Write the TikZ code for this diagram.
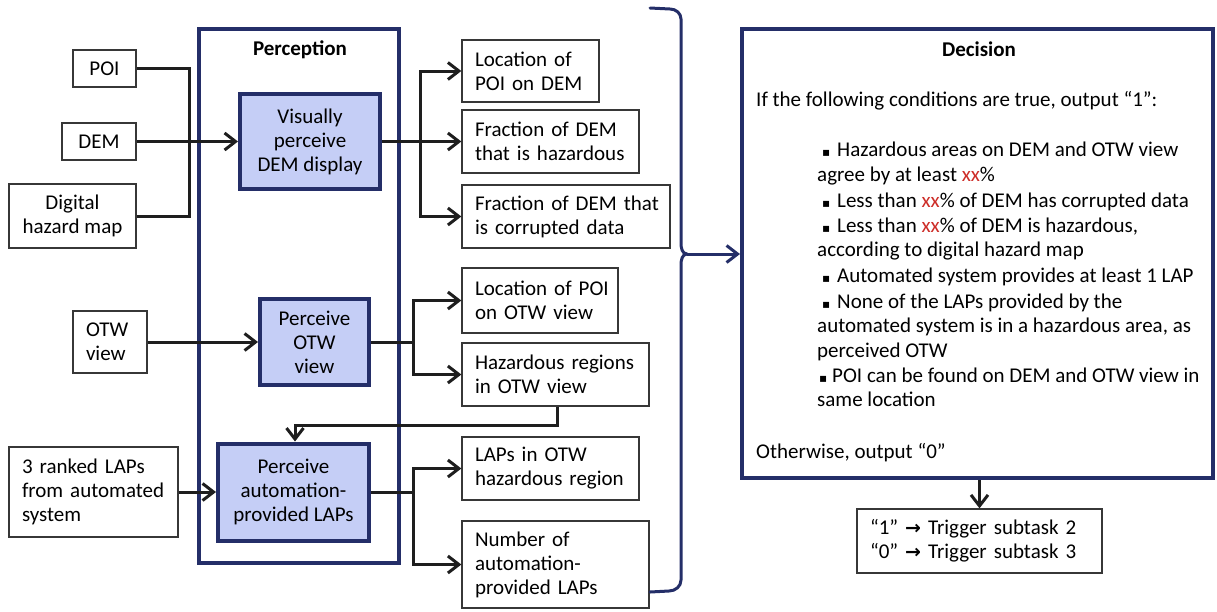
\documentclass[tikz,border=0pt]{standalone}
\usepackage{fontspec}
\setmainfont{Carlito}
\newfontfamily\symf{DejaVu Sans}
\usetikzlibrary{arrows.meta,calc}
\definecolor{navy}{RGB}{36,46,104}
\definecolor{procfill}{RGB}{197,206,246}
\definecolor{linek}{RGB}{30,30,30}
\definecolor{boxgray}{RGB}{55,55,55}
\definecolor{xxred}{RGB}{205,45,40}
\newcommand\redxx{\textcolor{xxred}{xx}}
\newcommand\sqbul{{\symf\fontsize{12}{12}\selectfont ▪}}
\newcommand\trigarrow{{\symf\bfseries\fontsize{19}{19}\selectfont →}}

\begin{document}
\begin{tikzpicture}[x=1pt,y=-1pt,
  font=\fontsize{21}{24}\selectfont,
  inbox/.style={draw=boxgray, line width=1.3pt, inner xsep=13pt, inner ysep=0pt, align=left},
  cbox/.style={draw=boxgray, line width=1.3pt, inner sep=0pt, align=center},
  proc/.style={draw=navy, fill=procfill, line width=4pt, inner sep=0pt, align=center},
  frame/.style={draw=navy, line width=4pt, inner sep=0pt},
  conn/.style={draw=linek, line width=3pt},
  arr/.style={conn, -{Straight Barb[length=11pt,width=17pt]}},
  navyarr/.style={draw=navy, line width=3pt, -{Straight Barb[length=11pt,width=17pt]}},
  dline/.style={anchor=base west, inner sep=0pt, font=\fontsize{21}{25}\selectfont},
]
\useasboundingbox (0,0) rectangle (1217,611);

% ---- Perception frame ----
\node[frame, minimum width=200, minimum height=534] (per) at (299,296) {};
\node[font=\fontsize{21}{24}\selectfont\bfseries] (pertitle) at (300,50) {Perception};

% ---- inputs ----
\node[cbox, minimum width=63, minimum height=37] (poi) at (104.5,68.5) {POI};
\node[cbox, minimum width=74, minimum height=37] (dem) at (99,141.5) {DEM};
\node[cbox, minimum width=127, minimum height=64] (dhm) at (72.5,216) {Digital\\hazard map};
\node[inbox, minimum width=74, minimum height=62, text width=48] (otw) at (110,342) {OTW\\view};
\node[inbox, minimum width=169, minimum height=90, text width=143] (laps) at (93.5,492) {3 ranked LAPs\\\mbox{from automated}\\system};

% ---- perception processes ----
\node[proc, minimum width=140, minimum height=95] (vp) at (310,141.5) {Visually\\perceive\\DEM display};
\node[proc, minimum width=109, minimum height=86] (po) at (314.5,342) {Perceive\\OTW\\view};
\node[proc, minimum width=151, minimum height=97] (pa) at (293.5,492) {Perceive\\automation-\\provided LAPs};

% ---- outputs ----
\node[inbox, minimum width=137, minimum height=62, text width=111] (o1) at (530.5,71) {Location of\\\mbox{POI on DEM}};
\node[inbox, minimum width=177, minimum height=63, text width=151] (o2) at (550.5,141.5) {Fraction of DEM\\\mbox{that is hazardous}};
\node[inbox, minimum width=208, minimum height=63, text width=182] (o3) at (566,216.5) {\mbox{Fraction of DEM that}\\is corrupted data};
\node[inbox, minimum width=156, minimum height=65, text width=130] (o4) at (540,300.5) {\mbox{Location of POI}\\on OTW view};
\node[inbox, minimum width=187, minimum height=63, text width=161] (o5) at (555.5,374.5) {\mbox{Hazardous regions}\\in OTW view};
\node[inbox, minimum width=177, minimum height=63, text width=151] (o6) at (550.5,468.5) {LAPs in OTW\\\mbox{hazardous region}};
\node[inbox, minimum width=187, minimum height=87, text width=161] (o7) at (555.5,564.5) {Number of\\automation-\\\mbox{provided LAPs}};

% ---- input connectors ----
\coordinate (jn) at (189,141.5);
\draw[conn] (poi.east) -| (jn);
\draw[conn] (dhm.east) -| (jn);
\draw[arr] (dem.east) -- (vp.west);
\draw[arr] (otw.east) -- (po.west);
\draw[arr] (laps.east) -- (pa.west);

% ---- output branches ----
\coordinate (b1) at (420,141.5);
\draw[conn] (vp.east) -- (b1);
\draw[arr] (b1) |- (o1.west);
\draw[arr] (b1) -- (o2.west);
\draw[arr] (b1) |- (o3.west);

\coordinate (b2) at (413,342);
\draw[conn] (po.east) -- (b2);
\draw[arr] (b2) |- (o4.west);
\draw[arr] (b2) |- (o5.west);

\coordinate (b3) at (413,492);
\draw[conn] (pa.east) -- (b3);
\draw[arr] (b3) |- (o6.west);
\draw[arr] (b3) |- (o7.west);

% feedback from OTW hazards into the LAP perception
\draw[arr] ([xshift=1.5pt]o5.south) -- ++(0,19) -| ([xshift=1.5pt]pa.north);

% ---- brace gathering all outputs ----
\draw[navy, line width=3pt, line cap=round, line join=round]
  (650,8) -- (670,9) to[out=0,in=90] (681,19) -- (681,243)
  to[out=-90,in=180] (687,254) coordinate (btip)
  to[out=180,in=90] (681,265) -- (681,580)
  to[out=-90,in=0] (669,591) -- (650,592);

% ---- Decision frame ----
\node[frame, minimum width=471, minimum height=449] (dec) at (977.5,253.5) {};
\draw[navyarr] (btip) -- (btip -| dec.west);

\node[font=\fontsize{21}{24}\selectfont\bfseries] (dectitle) at (979,49) {Decision};
\node[dline] (d0) at (756,106) {If the following conditions are true, output “1”:};
\node[dline] (k1) at (822,156) {\sqbul};
\node[dline] (d1) at (837,156) {Hazardous areas on DEM and OTW view};
\node[dline] (d2) at (817,181) {agree by at least \redxx\%};
\node[dline] (k2) at (822,207) {\sqbul};
\node[dline] (d3) at (837,207) {Less than \redxx\% of DEM has corrupted data};
\node[dline] (k3) at (822,232) {\sqbul};
\node[dline] (d4) at (837,232) {Less than \redxx\% of DEM is hazardous,};
\node[dline] (d5) at (817,256) {according to digital hazard map};
\node[dline] (k4) at (822,282) {\sqbul};
\node[dline] (d6) at (837,282) {Automated system provides at least 1 LAP};
\node[dline] (k5) at (822,308) {\sqbul};
\node[dline] (d7) at (837,308) {None of the LAPs provided by the};
\node[dline] (d8) at (817,332) {automated system is in a hazardous area, as};
\node[dline] (d9) at (817,357) {perceived OTW};
\node[dline] (k6) at (819,382) {\sqbul};
\node[dline] (d10) at (832,382) {POI can be found on DEM and OTW view in};
\node[dline] (d11) at (817,406) {same location};
\node[dline] (d12) at (756,458) {Otherwise, output “0”};

% ---- trigger box ----
\node[inbox, minimum width=245, minimum height=64, text width=219] (trig) at (979.5,541)
  {“1” \trigarrow{} Trigger subtask 2\\“0” \trigarrow{} Trigger subtask 3};
\draw[arr] (dec.south -| trig.north) -- (trig.north);
\end{tikzpicture}
\end{document}
